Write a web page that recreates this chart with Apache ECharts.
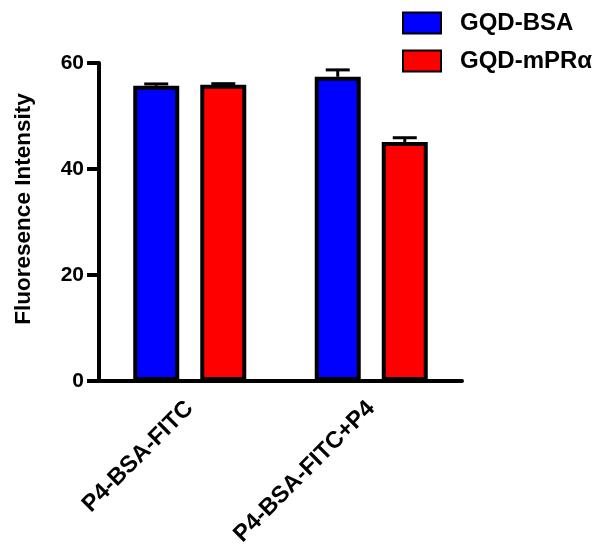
<!DOCTYPE html>
<html>
<head>
<meta charset="utf-8">
<script src="https://cdn.jsdelivr.net/npm/echarts@6/dist/echarts.min.js"></script>
<style>
  html, body { margin: 0; padding: 0; background: #fff; }
  #chart { width: 604px; height: 550px; }
</style>
</head>
<body>
<div id="chart"></div>
<script>
const categories = ["P4-BSA-FITC", "P4-BSA-FITC+P4"];
const bsaValues = [55.7, 57.4];
const bsaErrors = [0.35, 1.3];
const mprValues = [55.9, 45.1];
const mprErrors = [0.2, 0.8];
const yTicks = [0, 20, 40, 60];

const font = "Arial, 'Liberation Sans', sans-serif";
const barW = 46;
const barGapPct = 0.457;
const offset = (barW + barW * barGapPct) / 2;

function errorSeries(name, values, errors, shift) {
  return {
    name: name + " err",
    type: "custom",
    z: 5,
    data: values.map((v, i) => [i, v, errors[i]]),
    encode: { x: 0, y: 1 },
    renderItem: (params, api) => {
      const top = api.coord([api.value(0), api.value(1)]);
      const hi = api.coord([api.value(0), api.value(1) + api.value(2)]);
      const x = top[0] + shift;
      return {
        type: "group",
        children: [
          { type: "line", shape: { x1: x, y1: top[1], x2: x, y2: hi[1] },
            style: { stroke: "#000", lineWidth: 3 } },
          { type: "line", shape: { x1: x - 12, y1: hi[1], x2: x + 12, y2: hi[1] },
            style: { stroke: "#000", lineWidth: 3 } }
        ]
      };
    }
  };
}

const chart = echarts.init(document.getElementById("chart"));
chart.setOption({
  animation: false,
  textStyle: { fontFamily: font },
  grid: { left: 99, right: 142, top: 63, bottom: 169 },
  legend: {
    data: ["GQD-BSA", "GQD-mPR\u03b1"],
    orient: "vertical",
    left: 397,
    top: 6,
    itemWidth: 38,
    itemHeight: 21,
    itemGap: 14,
    icon: "rect",
    textStyle: { fontFamily: font, fontWeight: "bold", fontSize: 24, color: "#000", padding: [0, 0, 0, 14] }
  },
  xAxis: {
    type: "category",
    data: categories,
    axisLine: { lineStyle: { color: "#000", width: 4 } },
    axisTick: { alignWithLabel: true, length: 9, lineStyle: { width: 4, color: "#000" } },
    axisLabel: { rotate: 45, margin: 24, color: "#000", fontWeight: "bold", fontSize: 23.5, fontFamily: font }
  },
  yAxis: {
    type: "value",
    min: yTicks[0],
    max: yTicks[yTicks.length - 1],
    interval: yTicks[1] - yTicks[0],
    name: "Fluoresence Intensity",
    nameLocation: "middle",
    nameGap: 64,
    nameTextStyle: { color: "#000", fontWeight: "bold", fontSize: 22.5, fontFamily: font, padding: [0, 0, 0, 26] },
    axisLine: { show: true, lineStyle: { color: "#000", width: 4 } },
    axisTick: { show: true, length: 12, lineStyle: { width: 4, color: "#000" } },
    axisLabel: { margin: 15, color: "#000", fontWeight: "bold", fontSize: 21, fontFamily: font },
    splitLine: { show: false }
  },
  series: [
    {
      name: "GQD-BSA",
      type: "bar",
      data: bsaValues,
      barWidth: barW,
      barGap: (barGapPct * 100) + "%",
      itemStyle: { color: "#0000ff", borderColor: "#000", borderWidth: 4 }
    },
    {
      name: "GQD-mPR\u03b1",
      type: "bar",
      data: mprValues,
      barWidth: barW,
      itemStyle: { color: "#ff0000", borderColor: "#000", borderWidth: 4 }
    },
    errorSeries("GQD-BSA", bsaValues, bsaErrors, -offset),
    errorSeries("GQD-mPR\u03b1", mprValues, mprErrors, offset)
  ]
});
</script>
</body>
</html>
